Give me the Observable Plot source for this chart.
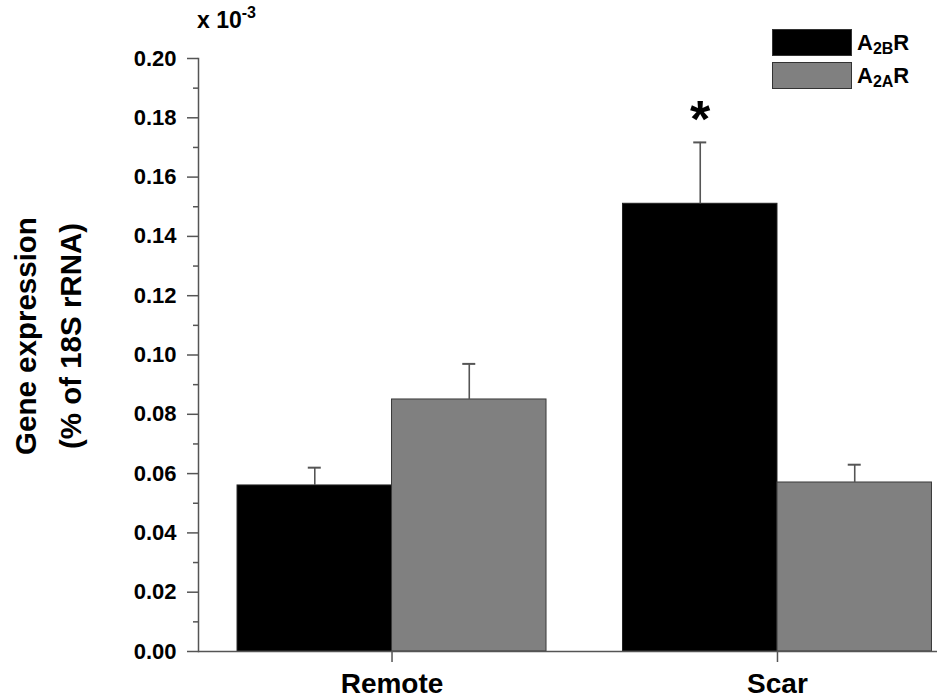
<!DOCTYPE html>
<html>
<head>
<meta charset="utf-8">
<script src="https://cdn.jsdelivr.net/npm/d3@7"></script>
<script src="https://cdn.jsdelivr.net/npm/@observablehq/plot@0.6"></script>
<style>
  body { margin: 0; background: #fff; }
  #chart { position: relative; width: 937px; height: 698px;
    font-family: "Liberation Sans", Arial, sans-serif; font-weight: bold; }
  .legend { position: absolute; left: 772px; top: 29px; }
  .item { display: flex; align-items: center; height: 27px; margin-bottom: 6px; }
  .swatch { width: 80px; height: 27px; box-sizing: border-box; border: 1px solid #333; margin-right: 5px; }
  .lab { font-size: 22px; line-height: 22px; }
  .lab sub { font-size: 16px; vertical-align: -4px; line-height: 0; }
</style>
</head>
<body>
<div id="chart"></div>
<script>
// Tissue regions and receptor subtypes
const groups = ["Remote", "Scar"];
const receptors = ["A2BR", "A2AR"];

// Gene expression (% of 18S rRNA, ×10^-3): mean and SEM per region
const a2bMean = [0.056, 0.151];
const a2bSem  = [0.006, 0.0207];
const a2aMean = [0.085, 0.057];
const a2aSem  = [0.012, 0.006];
// significance marker on A2BR (Scar vs Remote)
const a2bSignificant = [false, true];

// Axis ticks
const yTicks = [0, 0.02, 0.04, 0.06, 0.08, 0.10, 0.12, 0.14, 0.16, 0.18, 0.20];
const yMinorTicks = [0.01, 0.03, 0.05, 0.07, 0.09, 0.11, 0.13, 0.15, 0.17, 0.19];

const colors = {A2BR: "#000000", A2AR: "#808080"};

const a2bRows = groups.map((g, i) => ({group: g, receptor: receptors[0], mean: a2bMean[i], hi: a2bMean[i] + a2bSem[i], sig: a2bSignificant[i]}));
const a2aRows = groups.map((g, i) => ({group: g, receptor: receptors[1], mean: a2aMean[i], hi: a2aMean[i] + a2aSem[i]}));

const W = 937, H = 698;
const margin = {top: 58, right: 0, bottom: 47, left: 198};
const band = {paddingInner: 0.1984, paddingOuter: 0.0578, align: 0.876};

// each region band holds two adjacent bars; split it in half
const bw = d3.scaleBand().domain(groups).range([margin.left, W - margin.right])
  .paddingInner(band.paddingInner).paddingOuter(band.paddingOuter).align(band.align).bandwidth();
const half = bw / 2;
const cap = 6.5;
const axisColor = "#555";

const plot = Plot.plot({
  width: W, height: H,
  marginTop: margin.top, marginRight: margin.right, marginBottom: margin.bottom, marginLeft: margin.left,
  style: {fontFamily: '"Liberation Sans", Arial, sans-serif', fontWeight: "bold", color: "black", background: "white", overflow: "visible"},
  x: {type: "band", domain: groups, round: false, ...band},
  y: {domain: [0, 0.2]},
  marks: [
    Plot.barY(a2bRows, {x: "group", y: "mean", fill: colors.A2BR, stroke: "#222", insetRight: half}),
    Plot.barY(a2aRows, {x: "group", y: "mean", fill: colors.A2AR, stroke: "#3a3a3a", insetLeft: half}),
    // upward error bars
    Plot.ruleX(a2bRows, {x: "group", y1: "mean", y2: "hi", dx: -half / 2, stroke: axisColor, strokeWidth: 1.6}),
    Plot.ruleX(a2aRows, {x: "group", y1: "mean", y2: "hi", dx: half / 2, stroke: axisColor, strokeWidth: 1.6}),
    Plot.tickY(a2bRows, {x: "group", y: "hi", insetLeft: half / 2 - cap, insetRight: bw - half / 2 - cap, stroke: axisColor, strokeWidth: 2}),
    Plot.tickY(a2aRows, {x: "group", y: "hi", insetLeft: 1.5 * half - cap, insetRight: half / 2 - cap, stroke: axisColor, strokeWidth: 2}),
    Plot.text(a2bRows.filter(d => d.sig), {x: "group", y: "hi", text: () => "*", dx: -half / 2, dy: -22, fontSize: 52, fontWeight: "bold"}),
    // axis lines
    Plot.frame({anchor: "left", stroke: axisColor, strokeWidth: 1.5}),
    Plot.ruleY([0], {stroke: axisColor, strokeWidth: 1.5}),
    Plot.axisY(yTicks, {tickFormat: d3.format(".2f"), tickSize: 11, tickPadding: 11, fontSize: 22, stroke: axisColor, strokeWidth: 1.5, label: null}),
    Plot.axisY(yMinorTicks, {tickFormat: () => "", tickSize: 5, stroke: axisColor, strokeWidth: 1.5, label: null}),
    Plot.axisX({tickSize: 11, tickPadding: 11, fontSize: 28, stroke: axisColor, strokeWidth: 1.5, label: null})
  ]
});

const chart = document.getElementById("chart");
chart.appendChild(plot);

// axis title and scale factor
const svg = d3.select(plot);
const titleLines = ["Gene expression", "(% of 18S rRNA)"];
const titleX = [36, 81];
titleLines.forEach((t, i) => {
  svg.append("text")
    .attr("transform", `translate(${titleX[i]},336) rotate(-90)`)
    .attr("text-anchor", "middle")
    .attr("font-size", 29.5)
    .attr("font-weight", "bold")
    .attr("fill", "black")
    .text(t);
});
const sf = svg.append("text").attr("x", 197).attr("y", 28).attr("text-anchor", "start")
  .attr("font-size", 23).attr("font-weight", "bold").attr("fill", "black");
sf.append("tspan").text("x 10");
sf.append("tspan").attr("font-size", 16).attr("dy", -10).text("-3");

// legend
const legend = document.createElement("div");
legend.className = "legend";
const legendLabels = {A2BR: "A<sub>2B</sub>R", A2AR: "A<sub>2A</sub>R"};
receptors.forEach(r => {
  const item = document.createElement("div");
  item.className = "item";
  item.innerHTML = `<div class="swatch" style="background:${colors[r]}"></div><span class="lab">${legendLabels[r]}</span>`;
  legend.appendChild(item);
});
chart.appendChild(legend);
</script>
</body>
</html>
